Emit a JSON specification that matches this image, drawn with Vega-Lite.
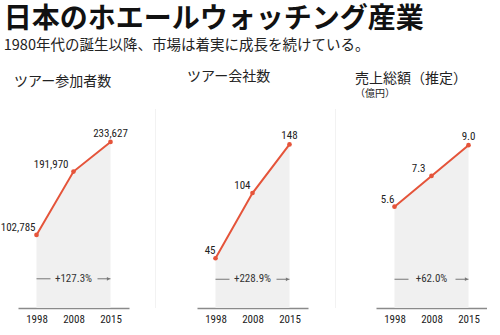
{
  "$schema": "https://vega.github.io/schema/vega-lite/v6.json",
  "padding": {"left": 0, "top": 6, "right": 0, "bottom": 0},
  "background": "white",
  "bounds": "flush",
  "spacing": 68,
  "title": {
    "text": "日本のホエールウォッチング産業",
    "subtitle": "1980年代の誕生以降、市場は着実に成長を続けている。",
    "anchor": "start",
    "frame": "bounds",
    "dx": 3,
    "font": "Noto Sans CJK JP",
    "fontSize": 28,
    "fontWeight": "bold",
    "color": "#111",
    "subtitleFont": "Noto Sans CJK JP",
    "subtitleFontSize": 14.5,
    "subtitleColor": "#222",
    "subtitlePadding": 5,
    "offset": 17
  },
  "datasets": {
    "main": [
      {"panel": "A", "year": "1998", "value": 102785},
      {"panel": "A", "year": "2008", "value": 191970},
      {"panel": "A", "year": "2015", "value": 233627},
      {"panel": "B", "year": "1998", "value": 45},
      {"panel": "B", "year": "2008", "value": 104},
      {"panel": "B", "year": "2015", "value": 148},
      {"panel": "C", "year": "1998", "value": 5.6},
      {"panel": "C", "year": "2008", "value": 7.3},
      {"panel": "C", "year": "2015", "value": 9.0}
    ],
    "ann": [
      {"panel": "A", "start": "1998", "mid": "2008", "end": "2015", "level": 41100, "label": "+127.3%"},
      {"panel": "B", "start": "1998", "mid": "2008", "end": "2015", "level": 26, "label": "+228.9%"},
      {"panel": "C", "start": "1998", "mid": "2008", "end": "2015", "level": 1.59, "label": "+62.0%"}
    ],
    "divider": [
      {"year": "1998"}
    ]
  },
  "config": {
    "view": {"stroke": null},
    "font": "Noto Sans CJK JP",
    "text": {"font": "Liberation Sans Narrow, Roboto Condensed, Liberation Sans, sans-serif", "fontSize": 11, "color": "#222"},
    "axisX": {
      "domainColor": "#8a8a8a", "domainWidth": 1.5, "ticks": false, "grid": false,
      "labelAngle": 0, "labelFontSize": 11, "labelColor": "#222", "labelPadding": 5,
      "labelFont": "Liberation Sans Narrow, Roboto Condensed, Liberation Sans, sans-serif"
    },
    "title": {"font": "Noto Sans CJK JP", "fontSize": 14, "fontWeight": "normal", "anchor": "start", "frame": "group", "color": "#222"}
  },
  "hconcat": [
    {
      "width": 111, "height": 199,
      "title": {"text": "ツアー参加者数", "dx": -4, "offset": 20},
      "layer": [
        {
          "data": {"name": "main"},
          "transform": [{"filter": "datum.panel == 'A'"}],
          "encoding": {
            "x": {"field": "year", "type": "ordinal", "scale": {"type": "point", "padding": 0.5}, "title": null},
            "y": {"field": "value", "type": "quantitative", "scale": {"domain": [0, 264000]}, "axis": null}
          },
          "layer": [
            {"mark": {"type": "area", "color": "#f0f0f0"}},
            {"mark": {"type": "line", "color": "#e5543a", "strokeWidth": 2}},
            {"mark": {"type": "point", "filled": true, "color": "#e5543a", "size": 22, "opacity": 1}},
            {"transform": [{"filter": "datum.year == '1998'"}], "mark": {"type": "text", "align": "right", "dx": -1, "dy": -7}, "encoding": {"text": {"field": "value", "format": ","}}},
            {"transform": [{"filter": "datum.year == '2008'"}], "mark": {"type": "text", "align": "right", "dx": -5, "dy": -7}, "encoding": {"text": {"field": "value", "format": ","}}},
            {"transform": [{"filter": "datum.year == '2015'"}], "mark": {"type": "text", "align": "center", "dy": -8}, "encoding": {"text": {"field": "value", "format": ","}}}
          ]
        },
        {
          "data": {"name": "ann"},
          "transform": [{"filter": "datum.panel == 'A'"}],
          "layer": [
            {"mark": {"type": "rule", "color": "#777", "strokeWidth": 1, "x2Offset": 14}, "encoding": {"x": {"field": "start", "type": "ordinal", "title": null}, "x2": {"field": "start"}, "y": {"field": "level", "type": "quantitative"}}},
            {"mark": {"type": "rule", "color": "#777", "strokeWidth": 1, "xOffset": -13}, "encoding": {"x": {"field": "end", "type": "ordinal", "title": null}, "x2": {"field": "end"}, "y": {"field": "level", "type": "quantitative"}}},
            {"mark": {"type": "point", "shape": "triangle-right", "filled": true, "color": "#777", "size": 14, "opacity": 1, "xOffset": -2}, "encoding": {"x": {"field": "end", "type": "ordinal", "title": null}, "y": {"field": "level", "type": "quantitative"}}},
            {"mark": {"type": "text", "baseline": "middle", "color": "#333"}, "encoding": {"x": {"field": "mid", "type": "ordinal", "title": null}, "y": {"field": "level", "type": "quantitative"}, "text": {"field": "label"}}}
          ]
        }
      ]
    },
    {
      "width": 111, "height": 199,
      "title": {"text": "ツアー会社数", "dx": -10, "offset": 25},
      "layer": [
        {
          "data": {"name": "divider"},
          "mark": {"type": "rule", "color": "#f2f2f2", "strokeWidth": 1, "xOffset": -60, "y2Offset": 18},
          "encoding": {"x": {"field": "year", "type": "ordinal", "title": null}}
        },
        {
          "data": {"name": "main"},
          "transform": [{"filter": "datum.panel == 'B'"}],
          "encoding": {
            "x": {"field": "year", "type": "ordinal", "scale": {"type": "point", "padding": 0.5}, "title": null},
            "y": {"field": "value", "type": "quantitative", "scale": {"domain": [0, 167]}, "axis": null}
          },
          "layer": [
            {"mark": {"type": "area", "color": "#f0f0f0"}},
            {"mark": {"type": "line", "color": "#e5543a", "strokeWidth": 2}},
            {"mark": {"type": "point", "filled": true, "color": "#e5543a", "size": 22, "opacity": 1}},
            {"transform": [{"filter": "datum.year == '1998'"}], "mark": {"type": "text", "align": "right", "dx": 0, "dy": -7}, "encoding": {"text": {"field": "value", "format": ","}}},
            {"transform": [{"filter": "datum.year == '2008'"}], "mark": {"type": "text", "align": "right", "dx": -2, "dy": -7}, "encoding": {"text": {"field": "value", "format": ","}}},
            {"transform": [{"filter": "datum.year == '2015'"}], "mark": {"type": "text", "align": "center", "dy": -8}, "encoding": {"text": {"field": "value", "format": ","}}}
          ]
        },
        {
          "data": {"name": "ann"},
          "transform": [{"filter": "datum.panel == 'B'"}],
          "layer": [
            {"mark": {"type": "rule", "color": "#777", "strokeWidth": 1, "x2Offset": 14}, "encoding": {"x": {"field": "start", "type": "ordinal", "title": null}, "x2": {"field": "start"}, "y": {"field": "level", "type": "quantitative"}}},
            {"mark": {"type": "rule", "color": "#777", "strokeWidth": 1, "xOffset": -13}, "encoding": {"x": {"field": "end", "type": "ordinal", "title": null}, "x2": {"field": "end"}, "y": {"field": "level", "type": "quantitative"}}},
            {"mark": {"type": "point", "shape": "triangle-right", "filled": true, "color": "#777", "size": 14, "opacity": 1, "xOffset": -2}, "encoding": {"x": {"field": "end", "type": "ordinal", "title": null}, "y": {"field": "level", "type": "quantitative"}}},
            {"mark": {"type": "text", "baseline": "middle", "color": "#333"}, "encoding": {"x": {"field": "mid", "type": "ordinal", "title": null}, "y": {"field": "level", "type": "quantitative"}, "text": {"field": "label"}}}
          ]
        }
      ]
    },
    {
      "width": 111, "height": 199,
      "title": {"text": "売上総額（推定）", "subtitle": "（億円）", "subtitleFontSize": 10, "subtitlePadding": 3, "subtitleColor": "#222", "dx": -21, "offset": 10},
      "layer": [
        {
          "data": {"name": "divider"},
          "mark": {"type": "rule", "color": "#f2f2f2", "strokeWidth": 1, "xOffset": -59, "y2Offset": 18},
          "encoding": {"x": {"field": "year", "type": "ordinal", "title": null}}
        },
        {
          "data": {"name": "main"},
          "transform": [{"filter": "datum.panel == 'C'"}],
          "encoding": {
            "x": {"field": "year", "type": "ordinal", "scale": {"type": "point", "padding": 0.5}, "title": null},
            "y": {"field": "value", "type": "quantitative", "scale": {"domain": [0, 10.2]}, "axis": null}
          },
          "layer": [
            {"mark": {"type": "area", "color": "#f0f0f0"}},
            {"mark": {"type": "line", "color": "#e5543a", "strokeWidth": 2}},
            {"mark": {"type": "point", "filled": true, "color": "#e5543a", "size": 22, "opacity": 1}},
            {"transform": [{"filter": "datum.year == '1998'"}], "mark": {"type": "text", "align": "right", "dx": 0, "dy": -7}, "encoding": {"text": {"field": "value", "format": ".1f"}}},
            {"transform": [{"filter": "datum.year == '2008'"}], "mark": {"type": "text", "align": "right", "dx": -6, "dy": -7}, "encoding": {"text": {"field": "value", "format": ".1f"}}},
            {"transform": [{"filter": "datum.year == '2015'"}], "mark": {"type": "text", "align": "center", "dy": -8}, "encoding": {"text": {"field": "value", "format": ".1f"}}}
          ]
        },
        {
          "data": {"name": "ann"},
          "transform": [{"filter": "datum.panel == 'C'"}],
          "layer": [
            {"mark": {"type": "rule", "color": "#777", "strokeWidth": 1, "x2Offset": 14}, "encoding": {"x": {"field": "start", "type": "ordinal", "title": null}, "x2": {"field": "start"}, "y": {"field": "level", "type": "quantitative"}}},
            {"mark": {"type": "rule", "color": "#777", "strokeWidth": 1, "xOffset": -13}, "encoding": {"x": {"field": "end", "type": "ordinal", "title": null}, "x2": {"field": "end"}, "y": {"field": "level", "type": "quantitative"}}},
            {"mark": {"type": "point", "shape": "triangle-right", "filled": true, "color": "#777", "size": 14, "opacity": 1, "xOffset": -2}, "encoding": {"x": {"field": "end", "type": "ordinal", "title": null}, "y": {"field": "level", "type": "quantitative"}}},
            {"mark": {"type": "text", "baseline": "middle", "color": "#333"}, "encoding": {"x": {"field": "mid", "type": "ordinal", "title": null}, "y": {"field": "level", "type": "quantitative"}, "text": {"field": "label"}}}
          ]
        }
      ]
    }
  ]
}
